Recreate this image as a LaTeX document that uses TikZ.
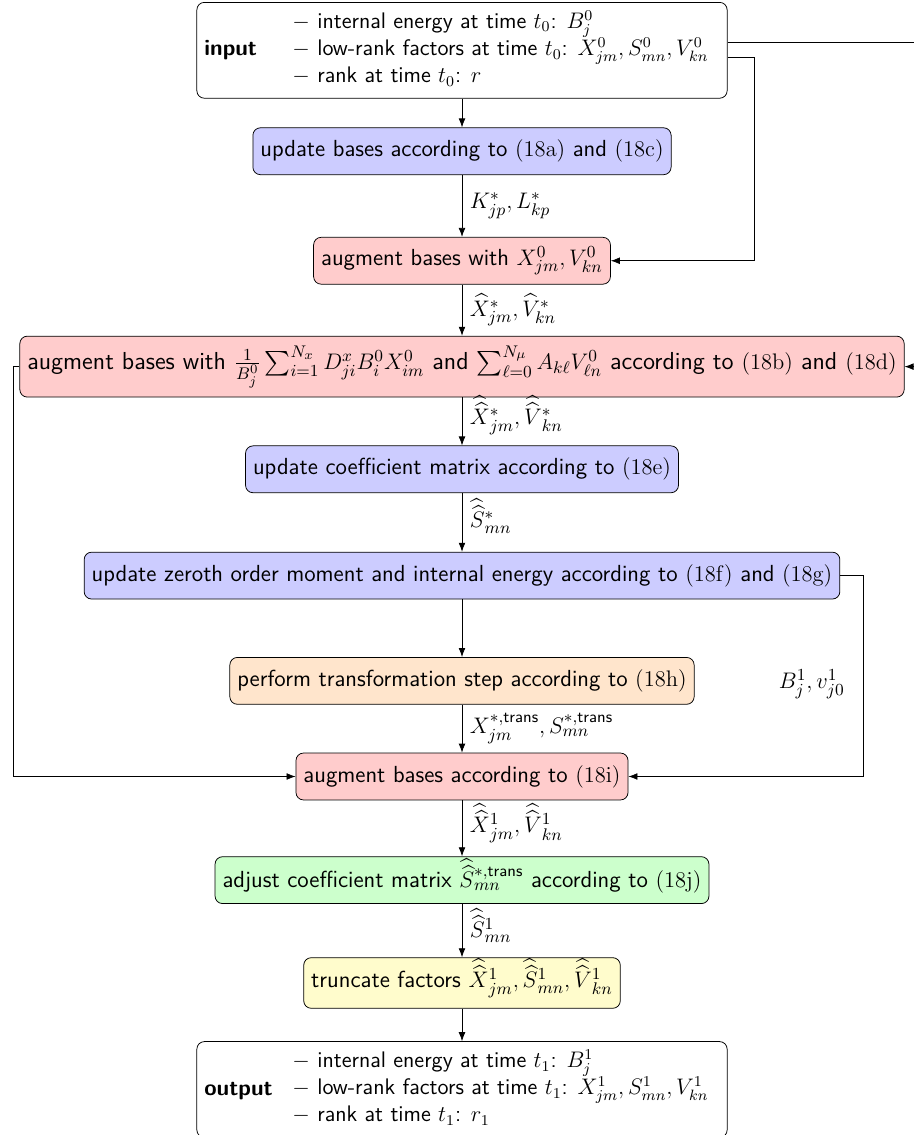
\documentclass[12pt,tikz,border=0pt]{standalone}
\usepackage{amsmath}
\usepackage{amssymb}
\usetikzlibrary{arrows.meta,calc,positioning}
\renewcommand{\familydefault}{\sfdefault}
\newcommand{\dhat}[1]{\smash[t]{\widehat{\widehat{#1}}}}

\begin{document}
\begin{tikzpicture}[node distance=0.6cm,>=Latex,font=\fontsize{12.4}{14.9}\selectfont]
\tikzstyle{stepbox}=[draw,rounded corners,fill=white]
\tikzstyle{listbox}=[stepbox,font=\fontsize{12}{14.2}\selectfont]
\tikzstyle{colbox}=[stepbox,minimum height=25pt]
\tikzstyle{bluebox}=[colbox,fill=blue!20]
\tikzstyle{redbox}=[colbox,fill=red!20]
\tikzstyle{orangebox}=[colbox,fill=orange!20]
\tikzstyle{greenbox}=[colbox,fill=green!20]
\tikzstyle{yellowbox}=[colbox,fill=yellow!20]
\useasboundingbox (-8.660,0.0375) rectangle (8.472,-21.237);
\node[listbox,anchor=north] (input) at (0,0) {\makebox[47pt][l]{\textbf{input}}\begin{tabular}{@{}l}
  $-$\ internal energy at time $t_0$: $B_j^0$\\
  $-$\ low-rank factors at time $t_0$: $X_{jm}^0, S_{mn}^0, V_{kn}^0$\\
  $-$\ rank at time $t_0$: $r$\end{tabular}};
\node[bluebox,below=0.54cm of input] (upd) {update bases according to $(18\mathrm{a})$ and $(18\mathrm{c})$};
\node[redbox,below=1.16cm of upd] (augA) {augment bases with $X_{jm}^0, V_{kn}^0$};
\node[redbox,below=0.96cm of augA,minimum height=32.5pt,font=\fontsize{13.1}{15.7}\selectfont] (augB) {augment bases with $\frac{1}{B_j^0}\sum_{i=1}^{N_x} D_{ji}^x B_i^0 X_{im}^0$ and $\sum_{\ell=0}^{N_\mu} A_{k\ell} V_{\ell n}^0$ according to $(18\mathrm{b})$ and $(18\mathrm{d})$};
\node[bluebox,below=0.9cm of augB] (coef) {update coefficient matrix according to $(18\mathrm{e})$};
\node[bluebox,below=1.1cm of coef] (zero) {update zeroth order moment and internal energy according to $(18\mathrm{f})$ and $(18\mathrm{g})$};
\node[orangebox,below=1.08cm of zero] (trans) {perform transformation step according to $(18\mathrm{h})$};
\node[redbox,below=0.9cm of trans] (augC) {augment bases according to $(18\mathrm{i})$};
\node[greenbox,below=1.05cm of augC] (adj) {adjust coefficient matrix $\dhat{S}_{mn}^{*,\text{trans}}$ according to $(18\mathrm{j})$};
\node[yellowbox,below=1.0cm of adj,minimum height=27pt] (trunc) {truncate factors $\dhat{X}_{jm}^1, \dhat{S}_{mn}^1, \dhat{V}_{kn}^1$};
\node[listbox,below=0.61cm of trunc] (output) {\makebox[47pt][l]{\textbf{output}}\begin{tabular}{@{}l}
  $-$\ internal energy at time $t_1$: $B_j^1$\\
  $-$\ low-rank factors at time $t_1$: $X_{jm}^1, S_{mn}^1, V_{kn}^1$\\
  $-$\ rank at time $t_1$: $r_1$\end{tabular}};
% main chain
\draw[->] (input) -- (upd);
\draw[->] (upd) -- node[right]{$K_{jp}^*, L_{kp}^*$} (augA);
\draw[->] (augA) -- node[right]{$\widehat{X}_{jm}^*, \widehat{V}_{kn}^*$} (augB);
\draw[->] (augB) -- node[right]{$\dhat{X}_{jm}^*, \dhat{V}_{kn}^*$} (coef);
\draw[->] (coef) -- node[right]{$\dhat{S}_{mn}^*$} (zero);
\draw[->] (zero) -- (trans);
\draw[->] (trans) -- node[right]{$X_{jm}^{*,\text{trans}}, S_{mn}^{*,\text{trans}}$} (augC);
\draw[->] (augC) -- node[right]{$\dhat{X}_{jm}^1, \dhat{V}_{kn}^1$} (adj);
\draw[->] (adj) -- node[right]{$\dhat{S}_{mn}^1$} (trunc);
\draw[->] (trunc) -- (output);
% side connections
\draw[->] ([yshift=-4pt]input.east) -- ++(0.5,0) |- (augA.east);
\draw[->] ([yshift=4pt]input.east) -- ++(4,0) |- (augB.east);
\draw[->] (augB.west) -- ++(-0.11,0) |- (augC.west);
\draw[->] (zero.east) -- ++(0.43,0) |- node[left=2mm,pos=0.27]{$B_j^1, v_{j0}^1$} (augC.east);
\end{tikzpicture}
\end{document}
